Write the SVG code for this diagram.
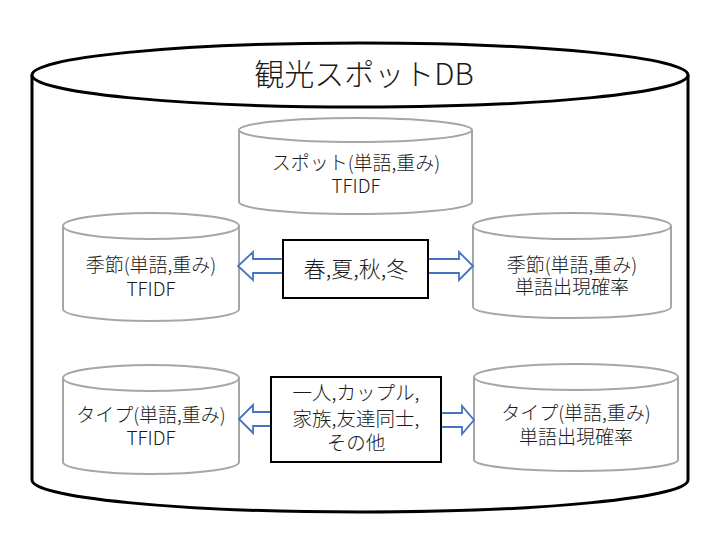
<svg xmlns="http://www.w3.org/2000/svg" width="720" height="540" viewBox="0 0 720 540">
<style>
.big{fill:#fff;stroke:#000;stroke-width:3}
.cyl{fill:#fff;stroke:#A6A6A6;stroke-width:2}
.box{fill:#fff;stroke:#000;stroke-width:2}
.arr{fill:#fff;stroke:#4472C4;stroke-width:1.8;stroke-linejoin:miter}
text{font-family:"Noto Sans CJK JP","Noto Sans",sans-serif;font-weight:300;fill:#1a1a1a;text-anchor:middle}
.t{font-size:19px}
.title{font-size:30px}
.bt{font-size:22px}
.bt2{font-size:19.5px}
</style>
<g id="db">
<path class="big" d="M32,75 L32,480 A328,32 0 0 0 688,480 L688,75"/>
<ellipse class="big" cx="360" cy="75" rx="328" ry="32"/>
<text class="title" x="364" y="85">観光スポットDB</text>
</g>
<g id="spot">
<path class="cyl" d="M239,130 L239,202 A116.5,12 0 0 0 472,202 L472,130"/>
<ellipse class="cyl" cx="355.5" cy="130" rx="116.5" ry="12"/>
<text class="t" x="356" y="170">スポット(単語,重み)</text>
<text class="t" x="356" y="193">TFIDF</text>
</g>
<g id="season-tfidf">
<path class="cyl" d="M63,226 L63,309 A88,12 0 0 0 239,309 L239,226"/>
<ellipse class="cyl" cx="151" cy="226" rx="88" ry="13"/>
<text class="t" x="151" y="272">季節(単語,重み)</text>
<text class="t" x="151" y="296">TFIDF</text>
</g>
<g id="season-prob">
<path class="cyl" d="M473,226 L473,307 A99,11 0 0 0 671,307 L671,226"/>
<ellipse class="cyl" cx="572" cy="226" rx="99" ry="13"/>
<text class="t" x="572" y="272">季節(単語,重み)</text>
<text class="t" x="572" y="294">単語出現確率</text>
</g>
<g id="type-tfidf">
<path class="cyl" d="M63,378 L63,462 A88,12 0 0 0 239,462 L239,378"/>
<ellipse class="cyl" cx="151" cy="378" rx="88" ry="13"/>
<text class="t" x="151" y="422">タイプ(単語,重み)</text>
<text class="t" x="151" y="445">TFIDF</text>
</g>
<g id="type-prob">
<path class="cyl" d="M474,377 L474,460 A102,11 0 0 0 678,460 L678,377"/>
<ellipse class="cyl" cx="576" cy="377" rx="102" ry="13"/>
<text class="t" x="576" y="420">タイプ(単語,重み)</text>
<text class="t" x="576" y="444">単語出現確率</text>
</g>
<g id="connectors">
<path class="arr" d="M283,259 L253,259 L253,252 L238,266 L253,280 L253,273 L283,273 Z"/>
<path class="arr" d="M428,259 L459,259 L459,252 L473,266 L459,280 L459,273 L428,273 Z"/>
<path class="arr" d="M271,412 L253,412 L253,405 L239,419 L253,433 L253,426 L271,426 Z"/>
<path class="arr" d="M441,413 L462,413 L462,406 L474,420 L462,434 L462,427 L441,427 Z"/>
</g>
<g id="seasons">
<rect class="box" x="283" y="240" width="145" height="58"/>
<text class="bt" x="356" y="277">春,夏,秋,冬</text>
</g>
<g id="types">
<rect class="box" x="271" y="377" width="170" height="85"/>
<text class="bt2" x="356" y="400">一人,カップル,</text>
<text class="bt2" x="356" y="426">家族,友達同士,</text>
<text class="bt2" x="356" y="450">その他</text>
</g>
</svg>
